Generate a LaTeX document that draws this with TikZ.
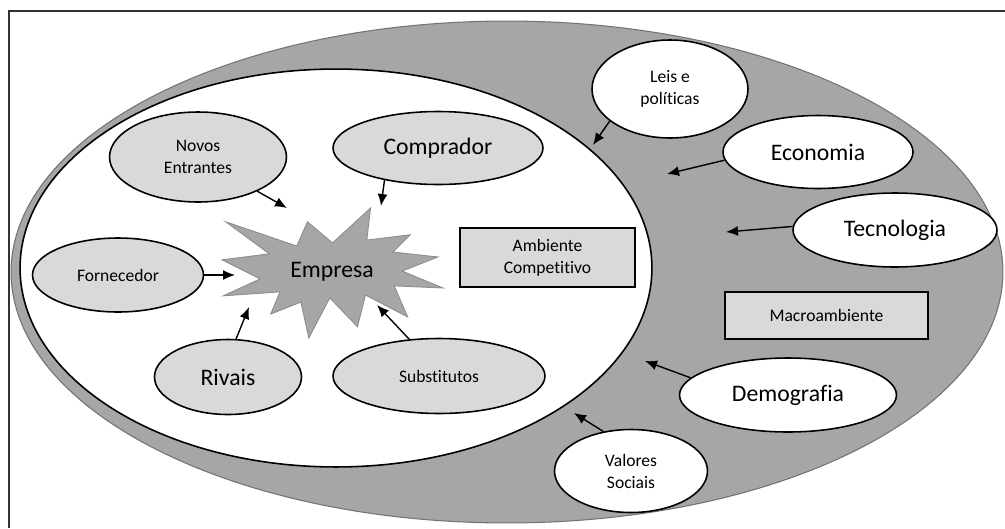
\documentclass[tikz,border=0pt]{standalone}
\usepackage{fontspec}
\setmainfont[Ligatures=NoCommon]{Carlito}
\usepackage{tikz}
\usetikzlibrary{positioning}
\usetikzlibrary{shapes,arrows.meta}

\definecolor{anelcinza}{RGB}{166,166,166}
\definecolor{cinzaclaro}{RGB}{217,217,217}

\begin{document}
\begin{tikzpicture}[x=0.02cm, y=-0.02cm,
  forca/.style={ellipse, draw, line width=0.9pt, fill=cinzaclaro, inner sep=0pt},
  fator/.style={ellipse, draw, line width=0.9pt, fill=white, inner sep=0pt},
  caixa/.style={rectangle, draw, line width=0.9pt, fill=cinzaclaro, inner sep=0pt},
  seta/.style={-{Latex[length=2.4mm,width=2mm]}, line width=0.8pt},
  grande/.style={font=\fontsize{13.5}{16}\selectfont},
  pequeno/.style={font=\fontsize{10}{12.5}\selectfont, align=center}]

\useasboundingbox (0,0) rectangle (1005,528);

% moldura (so topo e esquerda)
\draw[line width=1pt, black!80] (1005,11) -- (9,11) -- (9,528);

% macroambiente e ambiente competitivo
\draw[black!55, fill=anelcinza, line width=0.6pt] (507,272) ellipse [x radius=9.92cm, y radius=5.02cm];
\draw[black, fill=white, line width=0.9pt] (336,268) ellipse [x radius=6.32cm, y radius=3.98cm];

% explosao da empresa
\begin{scope}[shift={(222,208)}, xscale=1.0231, yscale=0.6019]
\draw[fill=anelcinza, draw=black!45, line width=0.5pt]
  (108,58) -- (145.22,0) -- (141.55,53.25) -- (183.80,44.57) -- (167.02,73.15)
  -- (210.97,81.37) -- (176.07,104.75) -- (216,132.90) -- (168.37,129.42)
  -- (181.45,180.95) -- (140.20,144.57) -- (132.47,197.37) -- (105.32,149.35)
  -- (84.85,216) -- (77.15,156.27) -- (47.62,176.17) -- (56.67,139.37)
  -- (1.35,145.87) -- (37.22,117.75) -- (0,86.15) -- (46.27,76.17)
  -- (3.70,22.95) -- (73.12,63.20) -- (83.52,22.95) -- cycle;
\end{scope}
\node[grande] (emp) at (332,272) {Empresa};

% cinco forcas
\node[forca, pequeno, minimum width=3.54cm, minimum height=1.8cm] (novos) at (198,157) {Novos\\Entrantes};
\node[forca, grande, minimum width=4.2cm, minimum height=1.46cm] (comp) at (438,148) {Comprador};
\node[forca, pequeno, minimum width=3.42cm, minimum height=1.48cm] (forn) at (118,275) {Fornecedor};
\node[forca, grande, minimum width=2.94cm, minimum height=1.5cm] (riv) at (228,377) {Rivais};
\node[forca, pequeno, minimum width=4.24cm, minimum height=1.5cm] (subs) at (439,376) {Substitutos};

\node[caixa, pequeno, minimum width=3.5cm, minimum height=1.18cm] (amb) at (547.5,257.5) {Ambiente\\Competitivo};

% fatores do macroambiente
\node[fator, pequeno, minimum width=3.12cm, minimum height=1.96cm] (leis) at (670,89) {Leis e\\políticas};
\node[fator, grande, minimum width=3.8cm, minimum height=1.46cm] (eco) at (818,152) {Economia};
\node[fator, grande, minimum width=4.08cm, minimum height=1.48cm] (tec) at (895,230) {Tecnologia};
\node[caixa, pequeno, minimum width=4.06cm, minimum height=0.94cm] (macro) at (826.5,315.5) {Macroambiente};
\node[fator, grande, minimum width=4.34cm, minimum height=1.48cm] (demo) at (788,395) {Demografia};
\node[fator, pequeno, minimum width=3.06cm, minimum height=1.66cm] (val) at (631,471) {Valores\\Sociais};

% pontas das setas
\coordinate (pnovos) at (287,208);
\coordinate (pcomp) at (381,206);
\coordinate (pforn) at (235,275);
\coordinate (priv) at (249,307);
\coordinate (psubs) at (377,305);
\coordinate (pleis) at (593,145);
\coordinate (peco) at (667,174);
\coordinate (ptec) at (726,232);
\coordinate (pdemo) at (645,361);
\coordinate (pval) at (574,413);

\draw[seta] (novos.-30) -- (pnovos);
\draw[seta] (comp.211) -- (pcomp);
\draw[seta] (forn.east) -- (pforn);
\draw[seta] (riv.78) -- (priv);
\draw[seta] (subs.129) -- (psubs);

\draw[seta] (leis.208) -- (pleis);
\draw[seta] (eco.185) -- (peco);
\draw[seta] (tec.178) -- (ptec);
\draw[seta] (demo.170) -- (pdemo);
\draw[seta] (val.125) -- (pval);

\end{tikzpicture}
\end{document}
